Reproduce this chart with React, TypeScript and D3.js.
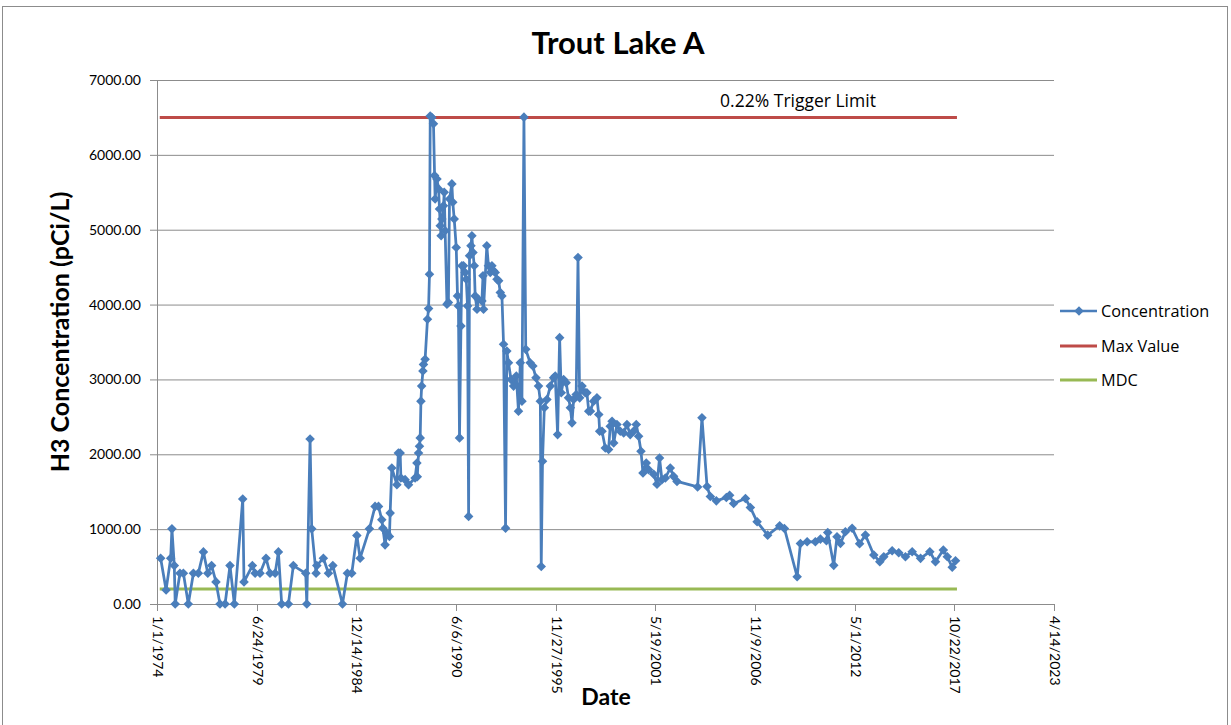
import React from "react";
import * as d3 from "d3";

const concYears = [
  1974.2, 1974.5, 1974.75, 1974.82, 1974.95, 1975.0, 1975.26, 1975.45, 1975.72, 1976.0,
  1976.27, 1976.55, 1976.79, 1977.0, 1977.24, 1977.46, 1977.74, 1978.01, 1978.25, 1978.71,
  1978.78, 1979.24, 1979.39, 1979.66, 1979.99, 1980.21, 1980.49, 1980.67, 1980.85, 1981.22,
  1981.49, 1982.17, 1982.23, 1982.41, 1982.5, 1982.74, 1982.78, 1983.14, 1983.42, 1983.66,
  1984.19, 1984.46, 1984.7, 1984.98, 1985.16, 1985.67, 1985.98, 1986.17, 1986.35, 1986.41,
  1986.53, 1986.63, 1986.77, 1986.81, 1986.9, 1987.18, 1987.26, 1987.36, 1987.4, 1987.63,
  1987.82, 1988.18, 1988.28, 1988.3, 1988.37, 1988.42, 1988.46, 1988.5, 1988.54, 1988.61,
  1988.64, 1988.73, 1988.86, 1988.92, 1988.97, 1989.01, 1989.1, 1989.19, 1989.25, 1989.28,
  1989.38, 1989.47, 1989.52, 1989.56, 1989.61, 1989.65, 1989.74, 1989.78, 1989.83, 1989.93,
  1990.01, 1990.07, 1990.2, 1990.25, 1990.33, 1990.44, 1990.51, 1990.56, 1990.62, 1990.7,
  1990.75, 1990.84, 1990.93, 1990.99, 1991.06, 1991.12, 1991.17, 1991.25, 1991.3, 1991.36,
  1991.43, 1991.48, 1991.58, 1991.66, 1991.85, 1991.91, 1991.94, 1992.12, 1992.21, 1992.31,
  1992.4, 1992.49, 1992.58, 1992.68, 1992.77, 1992.86, 1992.95, 1993.04, 1993.15, 1993.22,
  1993.31, 1993.45, 1993.59, 1993.74, 1993.86, 1993.96, 1994.05, 1994.16, 1994.26, 1994.5,
  1994.65, 1994.82, 1994.96, 1995.06, 1995.11, 1995.18, 1995.28, 1995.42, 1995.61, 1995.79,
  1995.88, 1996.01, 1996.12, 1996.21, 1996.34, 1996.48, 1996.61, 1996.71, 1996.8, 1996.89,
  1997.03, 1997.13, 1997.22, 1997.35, 1997.53, 1997.62, 1997.72, 1997.81, 1997.99, 1998.17,
  1998.27, 1998.32, 1998.45, 1998.63, 1998.81, 1998.9, 1999.0, 1999.09, 1999.27, 1999.45,
  1999.64, 1999.82, 2000.0, 2000.18, 2000.33, 2000.46, 2000.59, 2000.7, 2000.88, 2001.01,
  2001.29, 2001.47, 2001.61, 2001.74, 2001.93, 2002.2, 2002.38, 2002.57, 2003.7, 2003.94,
  2004.22, 2004.4, 2004.73, 2005.28, 2005.46, 2005.68, 2006.33, 2006.6, 2006.97, 2007.55,
  2008.21, 2008.47, 2009.17, 2009.35, 2009.72, 2010.17, 2010.45, 2010.78, 2010.85, 2011.18,
  2011.36, 2011.55, 2011.82, 2012.19, 2012.6, 2012.92, 2013.38, 2013.71, 2013.93, 2014.39,
  2014.75, 2015.12, 2015.49, 2015.95, 2016.46, 2016.77, 2017.2, 2017.42, 2017.69, 2017.87,
];

const concValues = [
  612, 188, 612, 1004, 513, 0, 410, 410, 0, 410,
  410, 696, 410, 513, 295, 0, 0, 513, 0, 1402,
  295, 513, 410, 410, 612, 410, 410, 696, 0, 0,
  513, 410, 0, 2205, 1004, 410, 513, 612, 410, 513,
  0, 410, 410, 915, 612, 1004, 1304, 1304, 1125, 1013,
  790, 946, 902, 1214, 1817, 1594, 2018, 2018, 1683, 1661,
  1594, 1683, 1884, 1700, 2018, 2107, 2219, 2710, 2911, 3112,
  3201, 3268, 3804, 3946, 4406, 6520, 6500, 6415, 5723, 5411,
  5678, 5545, 5277, 5054, 4920, 5143, 5321, 5500, 4987, 4004,
  4027, 5411, 5612, 5366, 5143, 4763, 4116, 3982, 2219, 3714,
  4518, 4518, 4429, 4339, 3982, 1170, 4652, 4786, 4920, 4696,
  4518, 4116, 3938, 4071, 4049, 4384, 3938, 4786, 4518, 4429,
  4518, 4451, 4429, 4339, 4317, 4161, 4116, 3469, 1013, 3379,
  3223, 3000, 2911, 3045, 2576, 3223, 2710, 6504, 3402, 3223,
  3179, 3022, 2911, 2710, 500, 1906, 2621, 2732, 2911, 3022,
  3045, 2263, 3558, 2821, 3000, 2955, 2754, 2621, 2420, 2732,
  2799, 4629, 2754, 2911, 2821, 2821, 2576, 2576, 2710, 2754,
  2531, 2308, 2308, 2085, 2063, 2375, 2442, 2152, 2397, 2308,
  2286, 2397, 2263, 2308, 2397, 2241, 2040, 1750, 1884, 1795,
  1733, 1600, 1951, 1661, 1683, 1817, 1705, 1638, 1564, 2489,
  1569, 1436, 1378, 1422, 1453, 1342, 1409, 1289, 1098, 920,
  1044, 1009, 364, 809, 831, 831, 867, 844, 956, 516,
  899, 810, 966, 1011, 805, 922, 655, 565, 632, 712,
  685, 632, 699, 610, 699, 565, 721, 632, 490, 578,
];

const refYears = [1974.15, 2017.95];
const maxValues = [6500, 6500];
const mdcValues = [200, 200];

const xTickLabels = [
  "1/1/1974", "6/24/1979", "12/14/1984", "6/6/1990", "11/27/1995",
  "5/19/2001", "11/9/2006", "5/1/2012", "10/22/2017", "4/14/2023",
];
const yTicks = [0, 1000, 2000, 3000, 4000, 5000, 6000, 7000];

const legendItems = ["Concentration", "Max Value", "MDC"];

const FONT = "Lato, 'Open Sans', sans-serif";
const FONT2 = "'Open Sans', Lato, sans-serif";
const BLUE = "#4a7ebb";
const RED = "#be4b48";
const GREEN = "#98b954";
const GRID = "#8c8c8c";

const DAY = 86400000;
const base = new Date(1974, 0, 1).getTime();
const yearToDate = (y: number) => new Date(base + (y - 1974) * 365.25 * DAY);
const parseLabel = (s: string) => {
  const [m, d, y] = s.split("/").map(Number);
  return new Date(y, m - 1, d);
};

export default function App() {
  const left = 157, right = 1054, top = 80, bottom = 604;
  const x = d3.scaleTime().domain([parseLabel(xTickLabels[0]), parseLabel(xTickLabels[xTickLabels.length - 1])]).range([left, right]);
  const y = d3.scaleLinear().domain([0, 7000]).range([bottom, top]);

  const conc = concYears.map((yr, i) => ({ date: yearToDate(yr), v: concValues[i] }));
  const line = d3.line<{ date: Date; v: number }>().x((d) => x(d.date)).y((d) => y(d.v));
  const maxLine = refYears.map((yr, i) => ({ date: yearToDate(yr), v: maxValues[i] }));
  const mdcLine = refYears.map((yr, i) => ({ date: yearToDate(yr), v: mdcValues[i] }));
  const diamond = d3.symbol(d3.symbolSquare, 46)() as string;

  const legendColors = [BLUE, RED, GREEN];
  const legendY = [311, 346, 380];

  return (
    <svg width={1231} height={725} style={{ position: "absolute", left: 0, top: 0 }} fontFamily={FONT}>
      <rect x={0} y={0} width={1231} height={725} fill="#fff" />
      <rect x={2.5} y={6.5} width={1225} height={730} fill="none" stroke="#8c8c8c" strokeWidth={1} />
      <text x={618} y={54} textAnchor="middle" fontSize={31} fontWeight="bold" fill="#000">Trout Lake A</text>

      {yTicks.map((t) => (
        <g key={t}>
          <line x1={left - 7} x2={right} y1={y(t) + 0.5} y2={y(t) + 0.5} stroke={GRID} strokeWidth={1} />
          <text x={141} y={y(t) + 5} textAnchor="end" fontSize={14} fill="#000">{t.toFixed(2)}</text>
        </g>
      ))}
      <line x1={left + 0.5} x2={left + 0.5} y1={top} y2={bottom} stroke={GRID} strokeWidth={1} />

      {xTickLabels.map((lab) => {
        const px = Math.round(x(parseLabel(lab))) + 0.5;
        return (
          <g key={lab}>
            <line x1={px} x2={px} y1={bottom} y2={bottom + 7} stroke={GRID} strokeWidth={1} />
            <text transform={`translate(${px - 5},${bottom + 12}) rotate(90)`} fontSize={14} fill="#000">{lab}</text>
          </g>
        );
      })}

      <path d={line(maxLine) || ""} fill="none" stroke={RED} strokeWidth={3} />
      <path d={line(mdcLine) || ""} fill="none" stroke={GREEN} strokeWidth={3} />
      <path d={line(conc) || ""} fill="none" stroke={BLUE} strokeWidth={2.75} strokeLinejoin="round" />
      {conc.map((d, i) => (
        <path key={i} d={diamond} transform={`translate(${x(d.date)},${y(d.v)}) rotate(45)`} fill={BLUE} />
      ))}

      <text x={798} y={107} textAnchor="middle" fontSize={17.5} fontFamily={FONT2} fill="#000">0.22% Trigger Limit</text>

      <text transform={`translate(69,${332}) rotate(-90)`} textAnchor="middle" fontSize={25} fontWeight="bold" fill="#000">H3 Concentration (pCi/L)</text>
      <text x={606} y={705} textAnchor="middle" fontSize={23} fontWeight="bold" fill="#000">Date</text>

      {legendItems.map((name, i) => (
        <g key={name}>
          <line x1={1060} x2={1097} y1={legendY[i]} y2={legendY[i]} stroke={legendColors[i]} strokeWidth={i === 0 ? 2.5 : 3} />
          {i === 0 && <path d={diamond} transform={`translate(1079,${legendY[i]}) rotate(45)`} fill={BLUE} />}
          <text x={1101} y={legendY[i] + 6} fontSize={16.3} fontFamily={FONT2} fill="#000">{name}</text>
        </g>
      ))}
    </svg>
  );
}
